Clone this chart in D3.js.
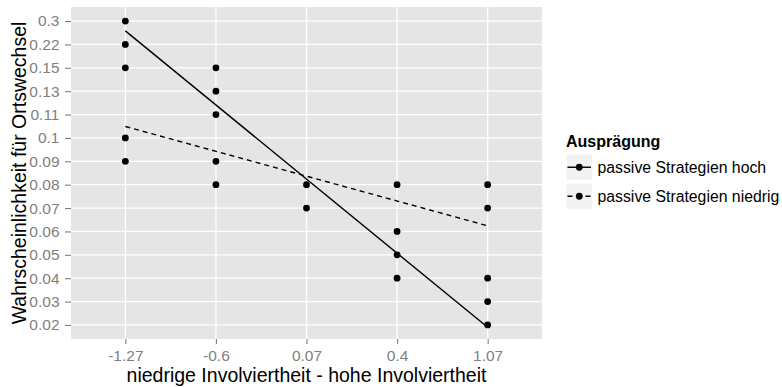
<!DOCTYPE html>
<html><head><meta charset="utf-8">
<script src="https://cdn.jsdelivr.net/npm/d3@7"></script>
<style>
body{margin:0;background:#fff}
text{font-family:"Liberation Sans",Arial,Helvetica,sans-serif}
</style>
</head><body>
<svg id="c" width="782" height="387"></svg>
<script>
// ---- data ----
const xLevels = ["-1.27","-0.6","0.07","0.4","1.07"];
const yLevels = ["0.02","0.03","0.04","0.05","0.06","0.07","0.08","0.09","0.1","0.11","0.13","0.15","0.22","0.3"];
const groups = ["passive Strategien hoch","passive Strategien niedrig"];
const pointX = ["-1.27","-1.27","-1.27","-1.27","-1.27",
                "-0.6","-0.6","-0.6","-0.6","-0.6",
                "0.07","0.07",
                "0.4","0.4","0.4","0.4",
                "1.07","1.07","1.07","1.07","1.07"];
const pointY = ["0.3","0.22","0.15","0.1","0.09",
                "0.15","0.13","0.11","0.09","0.08",
                "0.08","0.07",
                "0.08","0.06","0.05","0.04",
                "0.08","0.07","0.04","0.03","0.02"];
const pointGroup = [0,0,0,1,1, 0,0,0,1,1, 0,1, 1,1,0,0, 1,1,0,0,0];
// fitted regression lines (position on the discrete y scale, 1 = first level)
const fitX = ["-1.27","1.07"];
const fitHoch = [13.58, 0.90];
const fitNiedrig = [9.49, 5.24];

// ---- layout ----
const P = {l:71, r:542, t:7, b:339};
const svg = d3.select("#c");
const x = d3.scalePoint().domain(xLevels).range([P.l, P.r]).padding(0.6);
const y = d3.scalePoint().domain(yLevels).range([P.b, P.t]).padding(0.6);
const yPos = d3.scaleLinear().domain([0.4, yLevels.length + 0.6]).range([P.b, P.t]);

// panel
svg.append("rect").attr("x",P.l).attr("y",P.t).attr("width",P.r-P.l).attr("height",P.b-P.t).attr("fill","#E5E5E5");
const grid = svg.append("g").attr("stroke","#fff").attr("stroke-width",1.3);
grid.selectAll("line.h").data(yLevels).join("line").attr("class","h")
  .attr("x1",P.l).attr("x2",P.r).attr("y1",d=>y(d)).attr("y2",d=>y(d));
grid.selectAll("line.v").data(xLevels).join("line").attr("class","v")
  .attr("y1",P.t).attr("y2",P.b).attr("x1",d=>x(d)).attr("x2",d=>x(d));

// axes
const ax = svg.append("g").attr("transform",`translate(${P.l},0)`)
  .call(d3.axisLeft(y).tickSize(6).tickPadding(5.5));
ax.select(".domain").remove();
ax.selectAll(".tick line").attr("stroke","#7F7F7F").attr("stroke-width",1.1);
ax.selectAll(".tick text").attr("fill","#7F7F7F").style("font-size","15.5px");

const bx = svg.append("g").attr("transform",`translate(0,${P.b})`)
  .call(d3.axisBottom(x).tickSize(5).tickPadding(6));
bx.select(".domain").remove();
bx.selectAll(".tick line").attr("stroke","#7F7F7F").attr("stroke-width",1.1);
bx.selectAll(".tick text").attr("fill","#7F7F7F").style("font-size","15.5px");

// points
const pts = pointX.map((d,i)=>({x:d, y:pointY[i], g:pointGroup[i]}));
svg.append("g").selectAll("circle").data(pts).join("circle")
  .attr("cx",d=>x(d.x)).attr("cy",d=>y(d.y)).attr("r",3.4).attr("fill","#000");

// fit lines
const fits = [{vals:fitHoch, dash:null},{vals:fitNiedrig, dash:"5,4"}];
const line = d3.line().x(d=>x(d[0])).y(d=>yPos(d[1]));
svg.append("g").selectAll("path").data(fits).join("path")
  .attr("d",f=>line(fitX.map((xx,i)=>[xx,f.vals[i]])))
  .attr("fill","none").attr("stroke","#000").attr("stroke-width",1.4)
  .attr("stroke-dasharray",f=>f.dash);

// axis titles
svg.append("text").attr("x",(P.l+P.r)/2).attr("y",382).attr("text-anchor","middle")
  .style("font-size","19.5px").text("niedrige Involviertheit - hohe Involviertheit");
svg.append("text").attr("transform",`translate(25.5,${(P.t+P.b)/2}) rotate(-90)`)
  .attr("text-anchor","middle").style("font-size","19.5px").text("Wahrscheinlichkeit für Ortswechsel");

// legend
const L = svg.append("g");
L.append("text").attr("x",566).attr("y",147).style("font-size","16px").style("font-weight","bold").text("Ausprägung");
const keyS = 26.5, keyTop = [154, 183];
const lg = L.selectAll("g.k").data(groups).join("g").attr("class","k")
  .attr("transform",(d,i)=>`translate(566,${keyTop[i]})`);
lg.append("rect").attr("width",keyS).attr("height",keyS).attr("fill","#F2F2F2").attr("stroke","#fff").attr("stroke-width",1);
lg.append("line").attr("x1",1.5).attr("x2",keyS-1.5).attr("y1",keyS/2).attr("y2",keyS/2)
  .attr("stroke","#000").attr("stroke-width",1.4).attr("stroke-dasharray",(d,i)=>fits[i].dash);
lg.append("circle").attr("cx",keyS/2).attr("cy",keyS/2).attr("r",3.4).attr("fill","#000");
lg.append("text").attr("x",keyS+5).attr("y",keyS/2+5.5).style("font-size","15.8px").text(d=>d);
</script>
</body></html>
